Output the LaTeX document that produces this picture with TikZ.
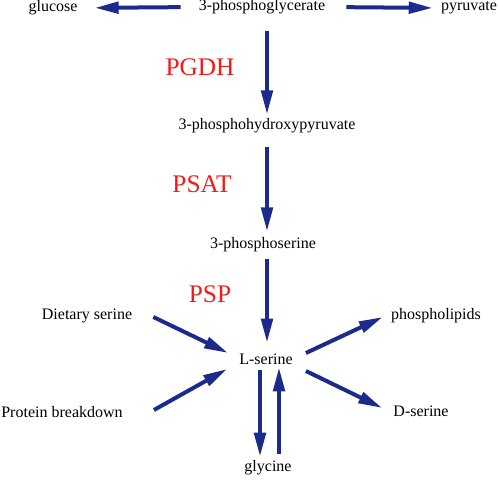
\documentclass[tikz,border=0pt]{standalone}
\usepackage{fontspec}
\setmainfont{Liberation Serif}
\usepackage{xcolor}
\usepackage{tikz}
\usetikzlibrary{arrows.meta,calc}

\begin{document}
\begin{tikzpicture}[
  x=0.75pt,
  y=-0.75pt,
  >=Latex,
  font=\rmfamily\fontsize{12}{14}\selectfont,
  chem/.style={inner sep=0pt,text=black},
  enzyme/.style={inner sep=0pt,text=snred,
    font=\rmfamily\fontsize{19}{22}\selectfont},
  flow/.style={-{Triangle[length=18pt,width=8.5pt]},line width=3pt,
    draw=snnavy}
]
  \definecolor{snnavy}{HTML}{1A2B8C}
  \definecolor{snred}{HTML}{F41A1A}

  \useasboundingbox (0,0) rectangle (498,481);

  \node[chem] (pg) at (262,7) {3-phosphoglycerate};
  \node[chem] (glucose) at (53,8) {glucose};
  \node[chem] (pyruvate) at (469,8) {pyruvate};
  \node[chem] (php) at (267,126) {3-phosphohydroxypyruvate};
  \node[chem] (ps) at (263,245) {3-phosphoserine};
  \node[chem] (lser) at (266,359) {L-serine};
  \node[chem] (glycine) at (268,468) {glycine};
  \node[chem] (diet) at (87,316) {Dietary serine};
  \node[chem] (prot) at (62,412) {Protein breakdown};
  \node[chem] (phos) at (436,316) {phospholipids};
  \node[chem] (dser) at (421,411) {D-serine};

  \node[enzyme] (pgdh) at (200,67) {PGDH};
  \node[enzyme] (psat) at (202,184) {PSAT};
  \node[enzyme] (psp) at (210,294) {PSP};

  % top row
  \draw[flow,shorten <=13.5pt,shorten >=12.75pt] (pg.west) -- (glucose.east);
  \draw[flow,shorten <=15.75pt,shorten >=6pt] (pg.east) -- (pyruvate.west);

  % main chain
  \draw[flow,shorten <=12pt,shorten >=3pt] (php.north |- pg.south) -- (php.north);
  \draw[flow,shorten <=9.75pt,shorten >=4.5pt] (php.south) -- (php.south |- ps.north);
  \draw[flow,shorten <=4.5pt,shorten >=8pt] (php.south |- ps.south) -- (php.south |- lser.north);

  % glycine
  \draw[flow,shorten <=4.3pt,shorten >=2.8pt]
    ([xshift=-4.5pt]lser.south) -- ([xshift=-4.5pt]lser.south |- glycine.north);
  \draw[flow,shorten <=5pt,shorten >=2pt]
    ([xshift=9.75pt]lser.south |- glycine.north) -- ([xshift=9.75pt]lser.south);

  % sources and products
  \draw[flow] ([shift={(21,1)}]diet.east) -- ([shift={(-11,-6)}]lser.west);
  \draw[flow] ([shift={(31,-2)}]prot.east) -- ([shift={(-12,10)}]lser.west);
  \draw[flow] ([shift={(13,-6)}]lser.east) -- ([shift={(-8,1)}]phos.west);
  \draw[flow] ([shift={(13,12)}]lser.east) -- ([shift={(-11,-3)}]dser.west);
\end{tikzpicture}
\end{document}
